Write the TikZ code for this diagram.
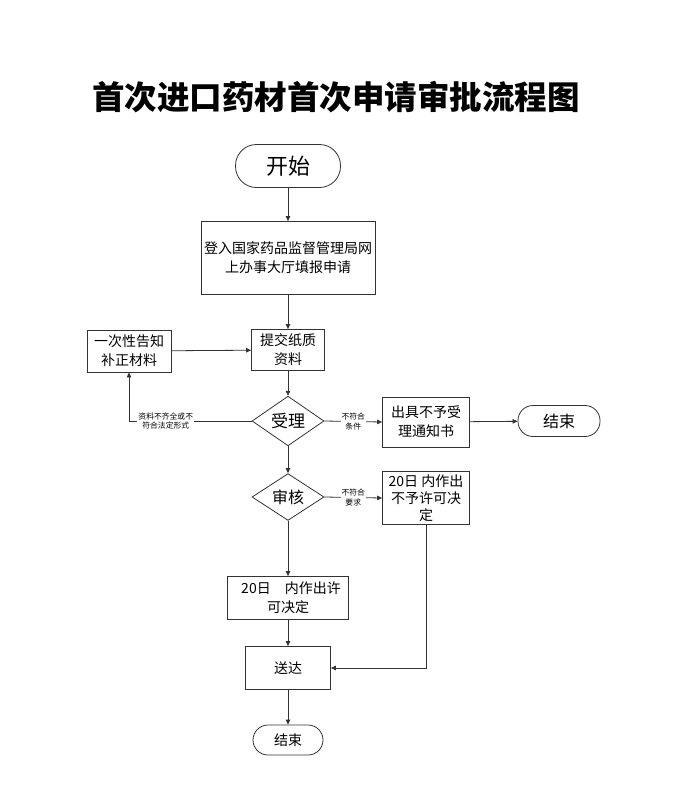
\documentclass[tikz,border=0pt]{standalone}
\usepackage{fontspec}
\setmainfont{Noto Sans CJK SC}
\usetikzlibrary{shapes.geometric, arrows.meta, positioning}
\definecolor{flowline}{HTML}{333333}
\newcommand{\fsz}[2]{\fontsize{#1}{#2}\selectfont}

\begin{document}
\begin{tikzpicture}[
    x=1pt, y=-1pt,
    every node/.style={font=\fsz{14}{19}, text=black},
    >={Triangle[length=5pt,width=4.5pt]},
    procbox/.style={draw=flowline, line width=0.8pt, align=center, inner sep=2pt},
    termbox/.style={draw=flowline, line width=0.8pt, rounded corners=15pt, inner sep=2pt},
    decision/.style={draw=flowline, line width=0.8pt, diamond, minimum width=72pt, minimum height=44pt, inner sep=0pt},
    flow/.style={->, draw=flowline, line width=0.8pt},
    note/.style={font=\fsz{7.8}{9.5}, fill=white, align=center, inner sep=1pt},
]

% Background / frame
\useasboundingbox (0,0) rectangle (680,790);

% Title
\node[font=\fsz{32.5}{38}\bfseries] (title) at (336,97) {首次进口药材首次申请审批流程图};

% --- Main column ---
\node[termbox, rounded corners=21pt, minimum width=105pt, minimum height=43pt, font=\fsz{22}{26}] (start) at (288,166) {开始};

\node[procbox, minimum width=174pt, minimum height=73pt] (apply) at (288,258)
      {登入国家药品监督管理局网\\上办事大厅填报申请};

\node[procbox, minimum width=73pt, minimum height=41pt] (submit) at (288,350) {提交纸质\\资料};

\node[decision, font=\fsz{17}{20}] (accept) at (288,421) {受理};

\node[decision, font=\fsz{16}{20}] (review) at (288,497) {审核};

\node[procbox, minimum width=121pt, minimum height=43pt] (grant) at (288,598)
      {\hspace*{6pt}20日\quad 内作出许\\可决定};

\node[procbox, minimum width=85pt, minimum height=43pt] (deliver) at (288,668) {送达};

\node[termbox, minimum width=70pt, minimum height=30pt] (finish) at (288,740) {结束};

% --- Left: correction ---
\node[procbox, minimum width=84pt, minimum height=42pt] (notify) at (129,351)
      {一次性告知\\补正材料};

% --- Right: rejection ---
\node[procbox, minimum width=87pt, minimum height=50pt] (refuse) at (426,422)
      {出具不予受\\理通知书};

\node[termbox, minimum width=82pt, minimum height=31pt, font=\fsz{16}{20}] (stop) at (559,421) {结束};

\node[procbox, minimum width=87pt, minimum height=53pt, inner sep=1pt, font=\fsz{14}{17}] (deny) at (426,498)
      {20日 内作出\\不予许可决\\定};

% --- Arrows ---
\draw[flow] (start) -- (apply);
\draw[flow] (apply) -- (submit);
\draw[flow] (notify) -- (submit);
\draw[flow] (submit) -- (accept);
\draw[flow] (accept.west) -| node[note, pos=0.35] {资料不齐全或不\\符合法定形式} (notify.south);
\draw[flow] (accept.east) -- node[note] {不符合\\条件} (refuse.west);
\draw[flow] (refuse) -- (stop);
\draw[flow] (accept) -- (review);
\draw[flow] (review.east) -- node[note] {不符合\\要求} (deny.west);
\draw[flow] (review) -- (grant);
\draw[flow] (grant) -- (deliver);
\draw[flow] (deny.south) |- (deliver.east);
\draw[flow] (deliver) -- (finish);

\end{tikzpicture}
\end{document}
